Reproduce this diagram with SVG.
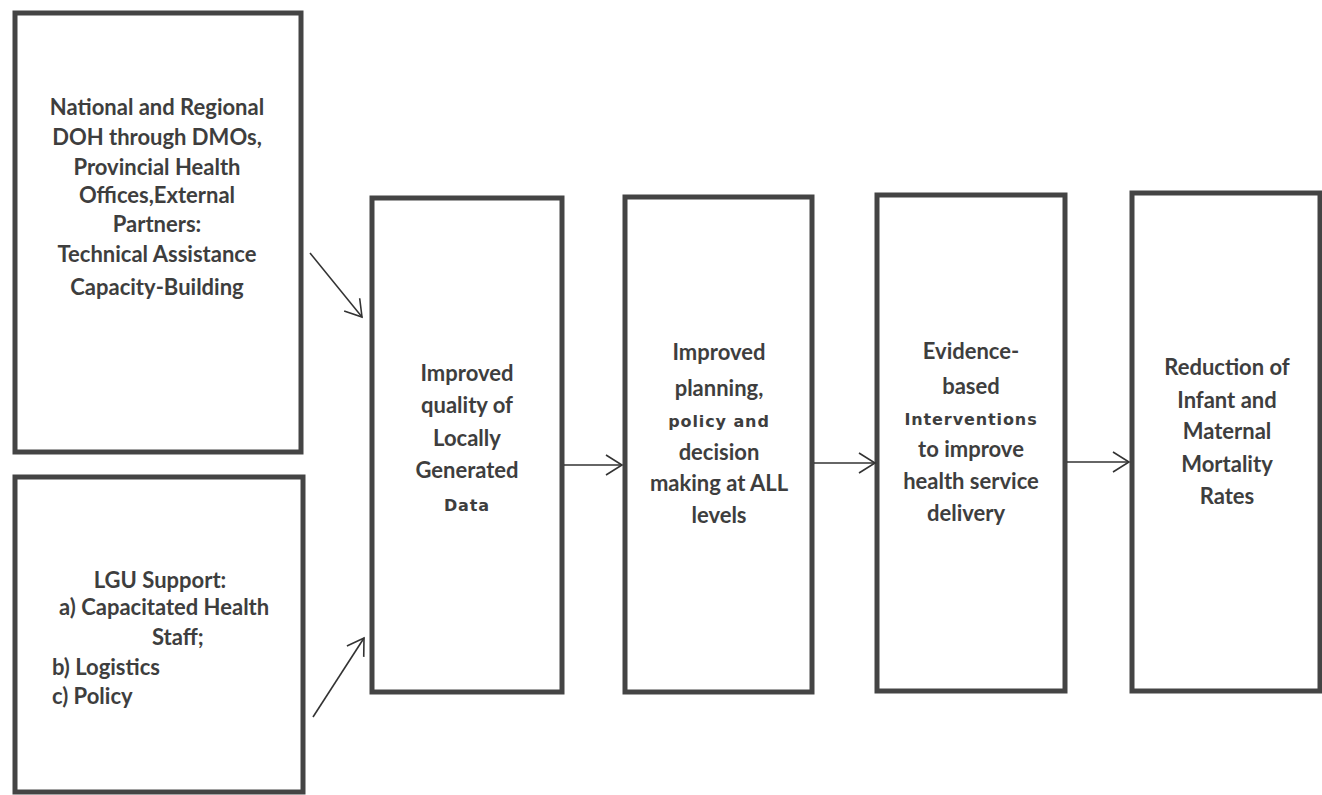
<svg xmlns="http://www.w3.org/2000/svg" width="1322" height="795" viewBox="0 0 1322 795">
<style>
.box{fill:#fff;stroke:#444;stroke-width:5}
.t{font-family:Lato,"Liberation Sans",sans-serif;font-weight:bold;font-size:22px;fill:#3e3e3e;text-anchor:middle}
.s{font-family:"DejaVu Sans","Liberation Sans",sans-serif;font-weight:bold;font-size:16px;letter-spacing:0.9px;fill:#3e3e3e;text-anchor:middle}
.l{text-anchor:start}
.c{fill:none;stroke:#333;stroke-width:1.6}
</style>
<defs>
<marker id="ah" markerUnits="userSpaceOnUse" markerWidth="22" markerHeight="24" refX="18" refY="12" orient="auto">
<path d="M2,2 L18,12 L2,22" fill="none" stroke="#333" stroke-width="1.6"/>
</marker>
</defs>
<rect width="1322" height="795" fill="#fff"/>
<g id="n1">
<rect class="box" x="15" y="13" width="286" height="439"/>
<text class="t" x="157" y="115">National and Regional</text>
<text class="t" x="157" y="145">DOH through DMOs,</text>
<text class="t" x="157" y="175">Provincial Health</text>
<text class="t" x="157" y="203">Offices,External</text>
<text class="t" x="157" y="232">Partners:</text>
<text class="t" x="157" y="262">Technical Assistance</text>
<text class="t" x="157" y="295">Capacity-Building</text>
</g>
<g id="n2">
<rect class="box" x="15" y="477" width="288" height="315"/>
<text class="t" x="160" y="588">LGU Support:</text>
<text class="t l" x="59" y="615">a) Capacitated Health</text>
<text class="t l" x="152" y="645">Staff;</text>
<text class="t l" x="52" y="675">b) Logistics</text>
<text class="t l" x="52" y="704">c) Policy</text>
</g>
<g id="n3">
<rect class="box" x="372" y="198" width="190" height="494"/>
<text class="t" x="467" y="381">Improved</text>
<text class="t" x="467" y="413">quality of</text>
<text class="t" x="467" y="446">Locally</text>
<text class="t" x="467" y="478">Generated</text>
<text class="s" x="467" y="511">Data</text>
</g>
<g id="n4">
<rect class="box" x="625" y="197" width="187" height="495"/>
<text class="t" x="719" y="360">Improved</text>
<text class="t" x="719" y="396">planning,</text>
<text class="s" x="719" y="427">policy and</text>
<text class="t" x="719" y="460">decision</text>
<text class="t" x="719" y="491">making at ALL</text>
<text class="t" x="719" y="523">levels</text>
</g>
<g id="n5">
<rect class="box" x="877" y="195" width="188" height="496"/>
<text class="t" x="971" y="359">Evidence-</text>
<text class="t" x="971" y="394">based</text>
<text class="s" x="971" y="425">Interventions</text>
<text class="t" x="971" y="457">to improve</text>
<text class="t" x="971" y="489">health service</text>
<text class="t" x="966" y="521">delivery</text>
</g>
<g id="n6">
<rect class="box" x="1132" y="193" width="188" height="498"/>
<text class="t" x="1227" y="375">Reduction of</text>
<text class="t" x="1227" y="408">Infant and</text>
<text class="t" x="1227" y="439">Maternal</text>
<text class="t" x="1227" y="472">Mortality</text>
<text class="t" x="1227" y="504">Rates</text>
</g>
<g id="connectors">
<line class="c" x1="310" y1="253" x2="362" y2="317" marker-end="url(#ah)"/>
<line class="c" x1="313" y1="717" x2="364" y2="638" marker-end="url(#ah)"/>
<line class="c" x1="564" y1="465" x2="622" y2="465" marker-end="url(#ah)"/>
<line class="c" x1="814" y1="463" x2="875" y2="463" marker-end="url(#ah)"/>
<line class="c" x1="1067" y1="462" x2="1129" y2="462" marker-end="url(#ah)"/>
</g>
</svg>
